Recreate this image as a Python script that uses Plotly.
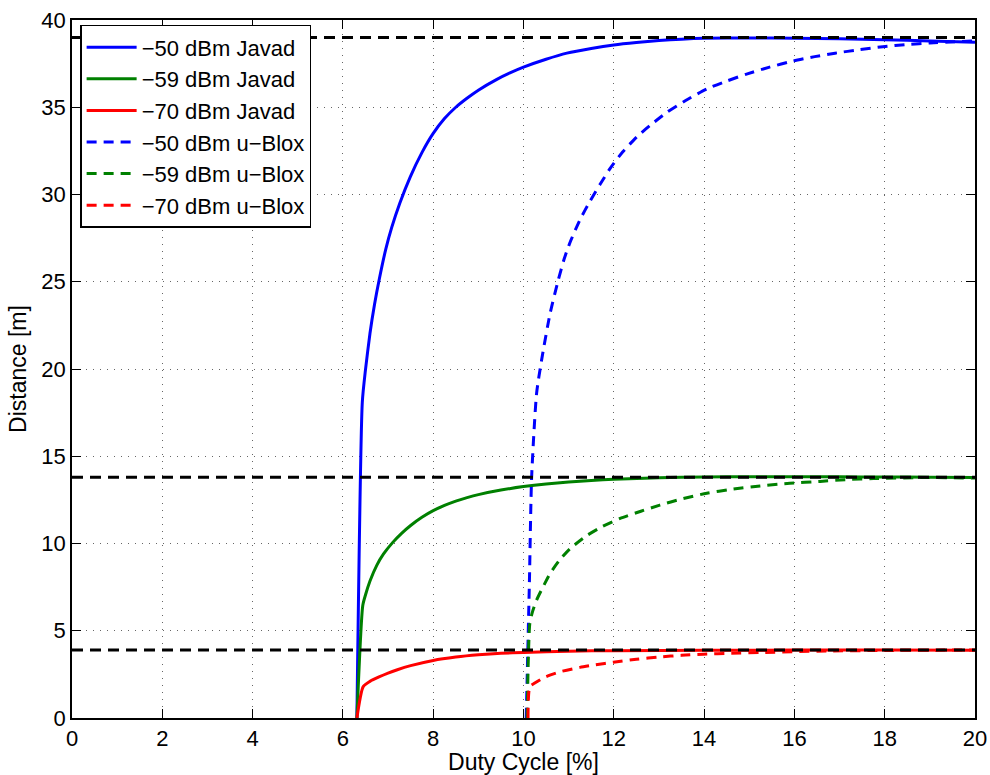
import plotly.graph_objects as go

# Distance vs duty cycle for the two receivers at three signal levels
javad_50_x = [6.31, 6.43, 6.5, 6.6, 6.7, 6.81, 6.95, 7.08, 7.26, 7.49, 7.75, 8.0, 8.25, 8.5, 8.74, 9.0, 9.41, 9.7, 10.0, 10.5, 10.96, 11.5, 12.0, 12.5, 13.0, 13.5, 14.0, 15.0, 16.0, 17.0, 18.0, 19.0, 20.0]
javad_50_y = [0, 18.1, 19.95, 22.05, 23.7, 25.2, 26.87, 28.1, 29.5, 31.0, 32.4, 33.5, 34.35, 35.0, 35.5, 35.98, 36.6, 36.97, 37.3, 37.75, 38.1, 38.37, 38.57, 38.71, 38.82, 38.9, 38.95, 38.97, 38.95, 38.92, 38.87, 38.8, 38.72]

javad_59_x = [6.31, 6.44, 6.5, 6.6, 6.75, 6.9, 7.1, 7.3, 7.5, 7.75, 8.0, 8.25, 8.5, 8.75, 9.0, 9.5, 10.0, 10.5, 11.0, 11.5, 12.0, 13.0, 14.0, 15.0, 16.0, 17.0, 18.0, 19.0, 20.0]
javad_59_y = [0, 6.45, 7.05, 7.85, 8.75, 9.4, 10.05, 10.58, 11.03, 11.5, 11.88, 12.18, 12.43, 12.63, 12.8, 13.06, 13.26, 13.41, 13.52, 13.61, 13.68, 13.77, 13.81, 13.83, 13.83, 13.82, 13.81, 13.8, 13.78]

javad_70_x = [6.31, 6.45, 6.6, 6.8, 7.0, 7.19, 7.5, 8.0, 8.5, 9.0, 9.5, 10.0, 11.0, 12.0, 14.0, 16.0, 18.0, 20.0]
javad_70_y = [0, 1.8, 2.1, 2.35, 2.57, 2.75, 3.0, 3.3, 3.49, 3.62, 3.71, 3.76, 3.83, 3.86, 3.88, 3.89, 3.89, 3.88]

ublox_50_x = [10.06, 10.13, 10.18, 10.29, 10.40, 10.59, 10.77, 10.9, 11.03, 11.25, 11.47, 11.7, 11.92, 12.2, 12.51, 12.8, 13.17, 13.6, 14.06, 14.5, 14.94, 15.45, 15.97, 16.45, 16.9, 17.45, 17.96, 18.5, 19.0, 20.0]
ublox_50_y = [0, 7.7, 13.8, 18.6, 20.5, 23.2, 25.1, 26.3, 27.25, 28.55, 29.6, 30.6, 31.5, 32.45, 33.3, 33.95, 34.7, 35.4, 36.05, 36.5, 36.9, 37.3, 37.65, 37.9, 38.1, 38.3, 38.47, 38.6, 38.68, 38.8]

ublox_59_x = [10.08, 10.14, 10.2, 10.29, 10.45, 10.59, 10.8, 11.03, 11.4, 11.75, 12.14, 12.6, 13.02, 13.5, 14.06, 14.6, 15.24, 15.9, 16.57, 17.15, 17.75, 18.93, 20.0]
ublox_59_y = [0, 5.42, 6.1, 6.76, 7.6, 8.29, 9.05, 9.7, 10.45, 10.98, 11.44, 11.85, 12.2, 12.55, 12.88, 13.1, 13.3, 13.45, 13.56, 13.66, 13.72, 13.78, 13.75]

ublox_70_x = [10.1, 10.14, 10.25, 10.44, 10.6, 10.81, 11.25, 11.6, 11.99, 12.5, 13.02, 13.5, 13.98, 14.6, 15.24, 16.72, 18.0, 20.0]
ublox_70_y = [0, 1.8, 2.0, 2.3, 2.47, 2.65, 2.9, 3.05, 3.2, 3.37, 3.5, 3.59, 3.66, 3.71, 3.75, 3.84, 3.87, 3.9]

# Asymptotic maximum distances
limit_levels = [39.0, 13.8, 3.9]
limit_x = [0, 20]

x_ticks = [0, 2, 4, 6, 8, 10, 12, 14, 16, 18, 20]
y_ticks = [0, 5, 10, 15, 20, 25, 30, 35, 40]

BLUE = "#0000ff"
GREEN = "#008000"
RED = "#ff0000"
FONT = "Liberation Sans, Arial, Helvetica, sans-serif"

series = [
    ("\u221250 dBm Javad", javad_50_x, javad_50_y, BLUE, "solid"),
    ("\u221259 dBm Javad", javad_59_x, javad_59_y, GREEN, "solid"),
    ("\u221270 dBm Javad", javad_70_x, javad_70_y, RED, "solid"),
    ("\u221250 dBm u\u2212Blox", ublox_50_x, ublox_50_y, BLUE, "10px,7px"),
    ("\u221259 dBm u\u2212Blox", ublox_59_x, ublox_59_y, GREEN, "10px,7px"),
    ("\u221270 dBm u\u2212Blox", ublox_70_x, ublox_70_y, RED, "10px,7px"),
]

fig = go.Figure()
for name, xs, ys, color, dash in series:
    fig.add_trace(go.Scatter(
        x=xs, y=ys, mode="lines", name=name,
        line=dict(color=color, width=3, dash=dash, shape="spline", smoothing=0.6),
    ))

for level in limit_levels:
    fig.add_trace(go.Scatter(
        x=limit_x, y=[level, level], mode="lines", showlegend=False,
        line=dict(color="black", width=3, dash="11px,7px"),
        hoverinfo="skip",
    ))

axis_common = dict(
    showline=True, linecolor="black", linewidth=1.5, mirror="ticks",
    ticks="inside", ticklen=9, tickwidth=1, tickcolor="black",
    showgrid=True, gridcolor="#666666", gridwidth=1, griddash="1px,6px",
    zeroline=False, automargin=False,
    tickfont=dict(family=FONT, size=22, color="black"),
)

fig.update_xaxes(
    range=[0, 20], tickvals=x_ticks,
    title=dict(text="Duty Cycle [%]", font=dict(family=FONT, size=23, color="black"), standoff=3),
    **axis_common,
)
fig.update_yaxes(
    range=[0, 40], tickvals=y_ticks,
    title=dict(text="Distance [m]", font=dict(family=FONT, size=23, color="black"), standoff=8),
    **axis_common,
)

fig.update_layout(
    width=990, height=775,
    margin=dict(l=72, r=15, t=20, b=57),
    paper_bgcolor="white", plot_bgcolor="white",
    font=dict(family=FONT, color="black"),
    legend=dict(
        x=0.009, y=0.993, xanchor="left", yanchor="top",
        bgcolor="white", bordercolor="black", borderwidth=1.5,
        font=dict(family=FONT, size=22, color="black"),
        tracegroupgap=0, itemwidth=50,
    ),
    showlegend=True,
)

fig.write_html("out.html")
